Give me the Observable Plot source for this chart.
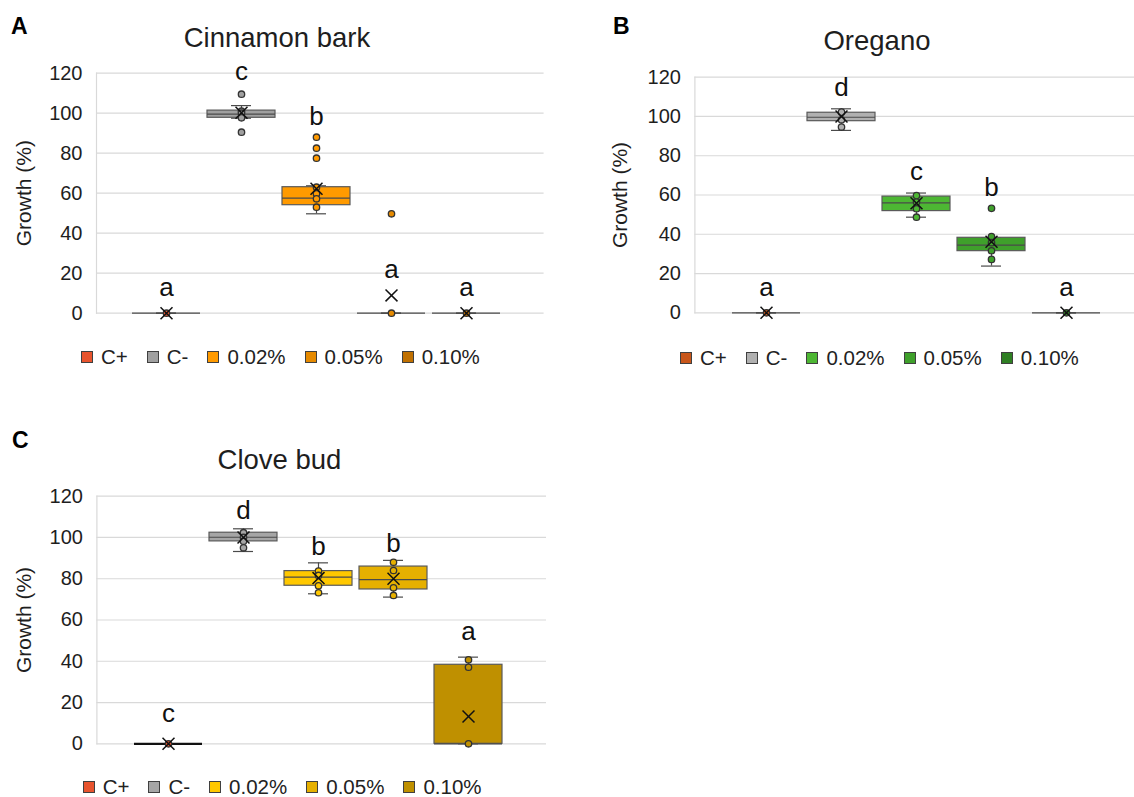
<!DOCTYPE html>
<html>
<head>
<meta charset="utf-8">
<script src="https://cdn.jsdelivr.net/npm/d3@7"></script>
<script src="https://cdn.jsdelivr.net/npm/@observablehq/plot@0.6"></script>
<style>
  html, body { margin: 0; padding: 0; background: #fff; }
  #root { position: relative; width: 1134px; height: 797px; overflow: hidden; background: #fff;
          font-family: "Liberation Sans", Arial, sans-serif; color: #222; }
  .abs { position: absolute; white-space: nowrap; }
  .legend { position: absolute; display: flex; align-items: center; gap: 19px; font-size: 20.5px; color: #222; height: 20px; }
  .legend .item { display: flex; align-items: center; height: 20px; }
  .legend .sw { width: 12px; height: 12px; box-sizing: border-box; border: 1px solid #404040; margin-right: 8px; }
  .legend span { line-height: 20px; }
</style>
</head>
<body>
<div id="root"></div>
<script>
// ---------- data ----------
const groups = ["C+", "C-", "0.02%", "0.05%", "0.10%"];
const yTicks = [0, 20, 40, 60, 80, 100, 120];
const yLabel = "Growth (%)";

// A: Cinnamon bark
const titleA = "Cinnamon bark";
const colorsA = ["#E8542E", "#A0A0A0", "#FF9A00", "#E68A00", "#C07000"];
const q1A   = [0, 97.7, 54, 0, 0];
const medA  = [0, 99.5, 57.5, 0, 0];
const q3A   = [0, 101.3, 63, 0, 0];
const loA   = [0, 97.5, 49.7, 0, 0];
const hiA   = [0, 103.8, 63.7, 0, 0];
const meanA = [0, 100.2, 62.2, 8.9, 0];
const pointsA = [[0], [109.5, 101, 100, 97.7, 90.5], [88, 82.5, 77.5, 63, 59.7, 57.2, 53], [49.7, 0], [0]];
const lettersA = ["a", "c", "b", "a", "a"];
const letterPosA = [8.5, 116.5, 94, 17.8, 8.5];

// B: Oregano
const titleB = "Oregano";
const colorsB = ["#C8561A", "#B0B0B0", "#4DB733", "#3FA02B", "#2F7F23"];
const q1B   = [0, 97.6, 51.8, 31.4, 0];
const medB  = [0, 99.6, 56, 34.5, 0];
const q3B   = [0, 101.9, 59.2, 38.2, 0];
const loB   = [0, 92.9, 48.7, 23.8, 0];
const hiB   = [0, 103.9, 61, 38.2, 0];
const meanB = [0, 100, 55.8, 36.2, 0];
const pointsB = [[0], [102.2, 98.3, 94.6], [59.7, 56.4, 53, 48.7], [53.2, 38.8, 35.7, 31.6, 27.2], [0]];
const lettersB = ["a", "d", "c", "b", "a"];
const letterPosB = [8.5, 110.5, 67.6, 59.3, 8.5];

// C: Clove bud
const titleC = "Clove bud";
const colorsC = ["#E8542E", "#A6A6A6", "#FFC800", "#E6B000", "#BF9000"];
const q1C   = [0, 98.1, 76.6, 74.8, 0];
const medC  = [0, 100.1, 80.8, 79.6, 0];
const q3C   = [0, 102.3, 83.7, 85.9, 38.3];
const loC   = [0, 93.2, 72.7, 71.1, 0];
const hiC   = [0, 104.2, 87.7, 88.9, 42];
const meanC = [0, 100, 80.3, 80, 13.2];
const pointsC = [[0], [102.3, 100, 98.2, 95], [83.7, 81.6, 76.6, 73.2], [88, 84, 75.6, 71.9], [40.7, 37.1, 0]];
const lettersC = ["c", "d", "b", "b", "a"];
const letterPosC = [10.5, 108.8, 91.3, 92.9, 50.1];

// ---------- layout ----------
const FONT = '"Liberation Sans", Arial, sans-serif';
const root = document.getElementById("root");

function panel(cfg) {
  const stats = groups.map((g, i) => ({
    group: g, q1: cfg.q1[i], med: cfg.med[i], q3: cfg.q3[i], lo: cfg.lo[i], hi: cfg.hi[i],
    mean: cfg.mean[i], letter: cfg.letters[i], pos: cfg.letterPos[i]
  }));
  const pts = groups.flatMap((g, i) => cfg.points[i].map(v => ({group: g, v})));
  const line = "#4a4a4a";
  const svg = Plot.plot({
    width: cfg.width, height: cfg.height,
    marginLeft: cfg.mL, marginRight: cfg.mR, marginTop: cfg.mT, marginBottom: cfg.mB,
    x: {domain: groups, range: cfg.xRange, paddingInner: 0.087, paddingOuter: 0, axis: null},
    y: {domain: [0, 120]},
    color: {domain: groups, range: cfg.colors},
    style: {background: "transparent", fontFamily: FONT, overflow: "visible", maxWidth: "none"},
    marks: [
      Plot.gridY({ticks: yTicks, stroke: "#D9D9D9", strokeOpacity: 1, strokeWidth: 1.2}),
      Plot.frame({anchor: "left", stroke: "#D9D9D9", strokeOpacity: 1, strokeWidth: 1.2}),
      Plot.axisY({ticks: yTicks, tickSize: 0, tickPadding: 14, fontSize: 20, label: null, fill: "#1e1e1e"}),
      Plot.text([yLabel], {text: d => d, frameAnchor: "left", textAnchor: "middle", dx: cfg.labelDx, rotate: -90, fontSize: 21, fill: "#1e1e1e"}),
      Plot.ruleX(stats, {x: "group", y1: "q3", y2: "hi", stroke: line, strokeWidth: 1.2}),
      Plot.ruleX(stats, {x: "group", y1: "lo", y2: "q1", stroke: line, strokeWidth: 1.2}),
      Plot.tickY(stats, {x: "group", y: "hi", inset: 24, stroke: line, strokeWidth: 1.2}),
      Plot.tickY(stats, {x: "group", y: "lo", inset: 24, stroke: line, strokeWidth: 1.2}),
      Plot.barY(stats, {x: "group", y1: "q1", y2: "q3", fill: "group", stroke: "#5a5a5a", strokeWidth: 1.2}),
      Plot.tickY(stats, {x: "group", y: "med", stroke: line, strokeWidth: 1.2}),
      cfg.darkZero ? Plot.tickY(stats.filter(d => d.group === cfg.darkZero), {x: "group", y: "q1", stroke: "#111", strokeWidth: 2.2}) : null,
      Plot.dot(pts, {x: "group", y: "v", r: 3.2, fill: "group", stroke: "#333", strokeWidth: 1.3}),
      Plot.dot(stats, {x: "group", y: "mean", symbol: "times", r: 5.5, stroke: "#111", strokeWidth: 1.5}),
      Plot.text(stats, {x: "group", y: "pos", text: "letter", lineAnchor: "bottom", fontSize: 26, fill: "#111"})
    ]
  });
  const wrap = document.createElement("div");
  wrap.className = "abs";
  wrap.style.left = cfg.left + "px";
  wrap.style.top = cfg.top + "px";
  wrap.appendChild(svg);
  root.appendChild(wrap);
}

function label(text, x, baseline, size, opts = {}) {
  const d = document.createElement("div");
  d.className = "abs";
  d.textContent = text;
  d.style.fontSize = size + "px";
  d.style.lineHeight = size + "px";
  d.style.top = (baseline - 0.8465 * size) + "px";
  if (opts.bold) d.style.fontWeight = "bold";
  d.style.color = opts.color || "#1e1e1e";
  if (opts.center) {
    d.style.left = (x - 200) + "px";
    d.style.width = "400px";
    d.style.textAlign = "center";
  } else {
    d.style.left = x + "px";
  }
  root.appendChild(d);
}

function legend(colors, left, centerY) {
  const lg = document.createElement("div");
  lg.className = "legend";
  lg.style.left = left + "px";
  lg.style.top = (centerY - 10) + "px";
  groups.forEach((g, i) => {
    const it = document.createElement("div");
    it.className = "item";
    const sw = document.createElement("div");
    sw.className = "sw";
    sw.style.background = colors[i];
    const t = document.createElement("span");
    t.textContent = g;
    it.appendChild(sw); it.appendChild(t);
    lg.appendChild(it);
  });
  root.appendChild(lg);
}

panel({left: 0, top: 0, width: 560, height: 325, mL: 96, mR: 16.4, mT: 72.7, mB: 12.3,
       xRange: [130.9, 502.4], labelDx: -72, colors: colorsA,
       q1: q1A, med: medA, q3: q3A, lo: loA, hi: hiA, mean: meanA, points: pointsA,
       letters: lettersA, letterPos: letterPosA});
panel({left: 560, top: 0, width: 574, height: 325, mL: 134.4, mR: 0, mT: 76.7, mB: 12.7,
       xRange: [171, 542], labelDx: -74.4, colors: colorsB,
       q1: q1B, med: medB, q3: q3B, lo: loB, hi: hiB, mean: meanB, points: pointsB,
       letters: lettersB, letterPos: letterPosB});
panel({left: 0, top: 420, width: 560, height: 335, mL: 96.4, mR: 14, mT: 75.7, mB: 11.7,
       xRange: [133, 504.4], labelDx: -72.4, colors: colorsC, darkZero: "C+",
       q1: q1C, med: medC, q3: q3C, lo: loC, hi: hiC, mean: meanC, points: pointsC,
       letters: lettersC, letterPos: letterPosC});

label("A", 11, 34.5, 23, {bold: true, color: "#000"});
label("B", 613, 34, 23, {bold: true, color: "#000"});
label("C", 12, 448, 23, {bold: true, color: "#000"});
label(titleA, 277, 47, 27.5, {center: true});
label(titleB, 877, 50.5, 27.5, {center: true});
label(titleC, 279.5, 469.5, 27.5, {center: true});

legend(colorsA, 81, 357);
legend(colorsB, 680, 358);
legend(colorsC, 82.7, 786.5);
</script>
</body>
</html>
